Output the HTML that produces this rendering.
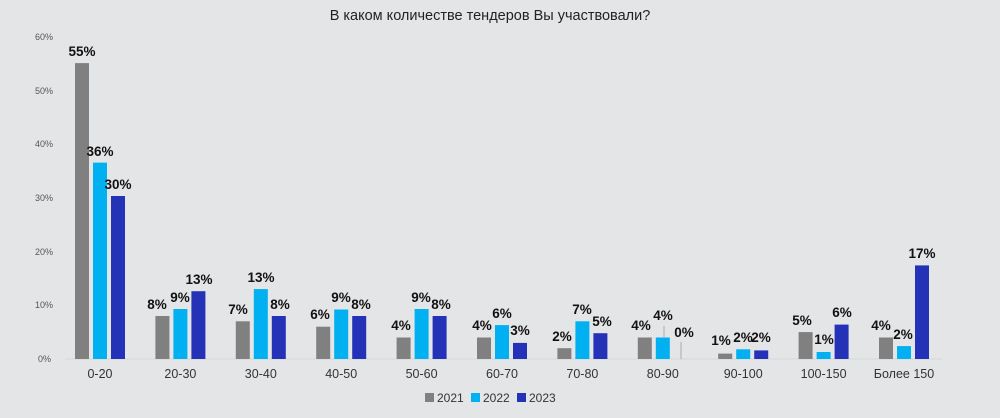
<!DOCTYPE html>
<html><head><meta charset="utf-8"><style>
body{margin:0;background:#e4e5e7;}
svg{display:block;font-family:"Liberation Sans",sans-serif;}
.t{font-size:9px;fill:#555}
.c{font-size:12.5px;fill:#333;text-anchor:middle}
.v{font-size:13.5px;font-weight:bold;fill:#111;text-anchor:middle}
.a{fill:#808080}.b{fill:#00b0f0}.n{fill:#2432b8}
</style></head><body>
<svg width="1000" height="418" viewBox="0 0 1000 418">
<rect width="1000" height="418" fill="#e4e5e7"/>
<text x="490" y="20" text-anchor="middle" font-size="14.5" fill="#222">В каком количестве тендеров Вы участвовали?</text>
<g class="t">
<text x="35" y="40">60%</text><text x="35" y="94">50%</text><text x="35" y="147">40%</text>
<text x="35" y="201">30%</text><text x="35" y="255">20%</text><text x="35" y="308">10%</text><text x="38" y="362">0%</text>
</g>
<line x1="65" y1="359" x2="942" y2="359" stroke="#d6d7d9" stroke-width="1"/>
<g class="c">
<text x="100" y="378">0-20</text><text x="180.4" y="378">20-30</text><text x="260.8" y="378">30-40</text>
<text x="341.2" y="378">40-50</text><text x="421.6" y="378">50-60</text><text x="502" y="378">60-70</text>
<text x="582.4" y="378">70-80</text><text x="662.8" y="378">80-90</text><text x="743.2" y="378">90-100</text>
<text x="823.6" y="378">100-150</text><text x="904" y="378">Более 150</text>
</g>
<g>
<rect class="a" x="75" y="63.1" width="14" height="295.9"/><rect class="b" x="93" y="162.6" width="14" height="196.4"/><rect class="n" x="111" y="196" width="14" height="163"/>
<rect class="a" x="155.4" y="316" width="14" height="43"/><rect class="b" x="173.4" y="309" width="14" height="50"/><rect class="n" x="191.4" y="291.2" width="14" height="67.8"/>
<rect class="a" x="235.8" y="321.3" width="14" height="37.7"/><rect class="b" x="253.8" y="289.1" width="14" height="69.9"/><rect class="n" x="271.8" y="316" width="14" height="43"/>
<rect class="a" x="316.2" y="326.7" width="14" height="32.3"/><rect class="b" x="334.2" y="309.5" width="14" height="49.5"/><rect class="n" x="352.2" y="316" width="14" height="43"/>
<rect class="a" x="396.6" y="337.5" width="14" height="21.5"/><rect class="b" x="414.6" y="309" width="14" height="50"/><rect class="n" x="432.6" y="316" width="14" height="43"/>
<rect class="a" x="477" y="337.5" width="14" height="21.5"/><rect class="b" x="495" y="325.1" width="14" height="33.9"/><rect class="n" x="513" y="342.9" width="14" height="16.1"/>
<rect class="a" x="557.4" y="348.2" width="14" height="10.8"/><rect class="b" x="575.4" y="321.3" width="14" height="37.7"/><rect class="n" x="593.4" y="333.2" width="14" height="25.8"/>
<rect class="a" x="637.8" y="337.5" width="14" height="21.5"/><rect class="b" x="655.8" y="337.5" width="14" height="21.5"/><line x1="681" y1="342" x2="681" y2="359" stroke="#aaa"/><line x1="664" y1="326" x2="664" y2="337" stroke="#aaa"/>
<rect class="a" x="718.2" y="353.6" width="14" height="5.4"/><rect class="b" x="736.2" y="349.3" width="14" height="9.7"/><rect class="n" x="754.2" y="350.4" width="14" height="8.6"/>
<rect class="a" x="798.6" y="332.1" width="14" height="26.9"/><rect class="b" x="816.6" y="352" width="14" height="7"/><rect class="n" x="834.6" y="324.6" width="14" height="34.4"/>
<rect class="a" x="879" y="337.5" width="14" height="21.5"/><rect class="b" x="897" y="346.1" width="14" height="12.9"/><rect class="n" x="915" y="265.4" width="14" height="93.6"/>
</g>
<g class="v">
<text x="82" y="56">55%</text><text x="100" y="156">36%</text><text x="118" y="189">30%</text>
<text x="157" y="309">8%</text><text x="180" y="302">9%</text><text x="199" y="284">13%</text>
<text x="238" y="314">7%</text><text x="261" y="282">13%</text><text x="280" y="309">8%</text>
<text x="320" y="319">6%</text><text x="341" y="302">9%</text><text x="361" y="309">8%</text>
<text x="401" y="330">4%</text><text x="421" y="302">9%</text><text x="441" y="309">8%</text>
<text x="482" y="330">4%</text><text x="502" y="318">6%</text><text x="520" y="335">3%</text>
<text x="562" y="341">2%</text><text x="582" y="314">7%</text><text x="602" y="326">5%</text>
<text x="641" y="330">4%</text><text x="663" y="320">4%</text><text x="684" y="337">0%</text>
<text x="721" y="345">1%</text><text x="743" y="342">2%</text><text x="761" y="342">2%</text>
<text x="802" y="325">5%</text><text x="824" y="344">1%</text><text x="842" y="317">6%</text>
<text x="881" y="330">4%</text><text x="903" y="339">2%</text><text x="922" y="258">17%</text>
</g>
<g font-size="12" fill="#333">
<rect x="425" y="393" width="9" height="9" fill="#808080"/><text x="437" y="402">2021</text>
<rect x="471" y="393" width="9" height="9" fill="#00b0f0"/><text x="483" y="402">2022</text>
<rect x="517" y="393" width="9" height="9" fill="#2432b8"/><text x="529" y="402">2023</text>
</g>
</svg>
</body></html>
